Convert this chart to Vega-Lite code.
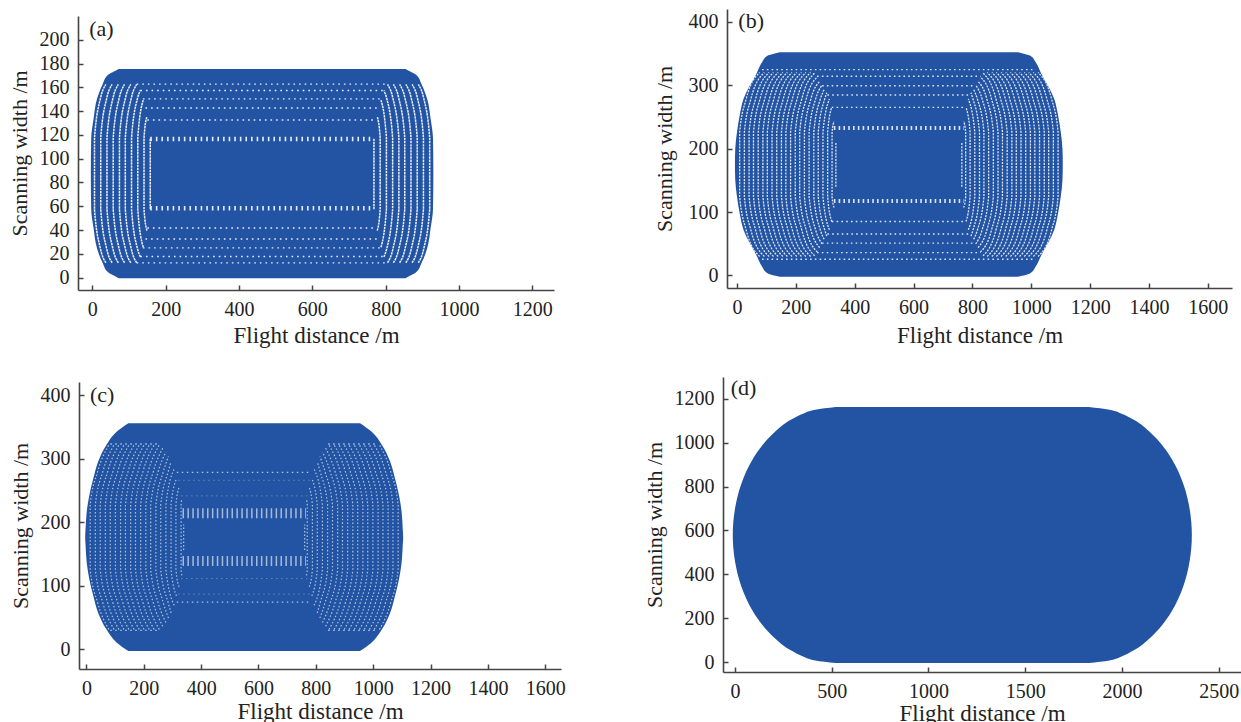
{"$schema":"https://vega.github.io/schema/vega-lite/v6.json","padding":{"left":8,"top":6,"right":0,"bottom":0},"background":"white","bounds":"flush","spacing":645,
"config":{"numberFormat":"d","view":{"stroke":null},"axisX":{"titleFontSize":23},"axis":{"grid":false,"domainColor":"#444","domainWidth":1.6,"tickColor":"#444","tickWidth":1.5,"tickSize":-5,"labelFont":"Liberation Serif","labelFontSize":20,"labelColor":"#222","labelPadding":14,"labelOverlap":false,"labelFlush":false,"titleFont":"Liberation Serif","titleFontSize":22,"titleFontWeight":"normal","titleColor":"#222","titlePadding":8}},
"datasets":{
"a_shape":[{"y":-0.5,"x":72,"x2":854},{"y":1.5,"x":60,"x2":866},{"y":4.5,"x":43,"x2":883},{"y":12.5,"x":28,"x2":898},{"y":24.5,"x":13,"x2":913},{"y":42.5,"x":3,"x2":923},{"y":57.5,"x":-3,"x2":929},{"y":87.5,"x":-4,"x2":930},{"y":117.5,"x":-3,"x2":929},{"y":132.5,"x":3,"x2":923},{"y":150.5,"x":13,"x2":913},{"y":162.5,"x":28,"x2":898},{"y":170.5,"x":43,"x2":883},{"y":173.5,"x":60,"x2":866},{"y":175.5,"x":72,"x2":854}],
"a_dots":[{"y":162.7,"x":121},{"y":162.7,"x":805},{"y":157.3,"x":131},{"y":157.3,"x":795},{"y":150.3,"x":138},{"y":150.3,"x":788},{"y":142.7,"x":145},{"y":142.7,"x":781},{"y":132.6,"x":150},{"y":132.6,"x":776},{"y":12.4,"x":121},{"y":12.4,"x":805},{"y":17.8,"x":131},{"y":17.8,"x":795},{"y":25,"x":138},{"y":25,"x":788},{"y":32.5,"x":145},{"y":32.5,"x":781},{"y":41.7,"x":150},{"y":41.7,"x":776}],
"a_wide":[{"y":116.6,"x":158},{"y":116.6,"x":768},{"y":58.4,"x":158},{"y":58.4,"x":768}],
"a_arcs":[
{"a":1,"y":12.5,"x":37},{"a":1,"y":24.5,"x":22},{"a":1,"y":57.5,"x":6},{"a":1,"y":117.5,"x":6},{"a":1,"y":150.5,"x":22},{"a":1,"y":162.5,"x":37},
{"a":2,"y":12.5,"x":54},{"a":2,"y":24.5,"x":39},{"a":2,"y":57.5,"x":23},{"a":2,"y":117.5,"x":23},{"a":2,"y":150.5,"x":39},{"a":2,"y":162.5,"x":54},
{"a":3,"y":12.5,"x":71},{"a":3,"y":24.5,"x":56},{"a":3,"y":57.5,"x":40},{"a":3,"y":117.5,"x":40},{"a":3,"y":150.5,"x":56},{"a":3,"y":162.5,"x":71},
{"a":4,"y":12.5,"x":88},{"a":4,"y":24.5,"x":73},{"a":4,"y":57.5,"x":57},{"a":4,"y":117.5,"x":57},{"a":4,"y":150.5,"x":73},{"a":4,"y":162.5,"x":88},
{"a":5,"y":12.5,"x":105},{"a":5,"y":24.5,"x":90},{"a":5,"y":57.5,"x":74},{"a":5,"y":117.5,"x":74},{"a":5,"y":150.5,"x":90},{"a":5,"y":162.5,"x":105},
{"a":6,"y":12.5,"x":121},{"a":6,"y":24.5,"x":106},{"a":6,"y":57.5,"x":90},{"a":6,"y":117.5,"x":90},{"a":6,"y":150.5,"x":106},{"a":6,"y":162.5,"x":121},
{"a":7,"y":17.5,"x":131},{"a":7,"y":24.5,"x":123},{"a":7,"y":57.5,"x":107},{"a":7,"y":117.5,"x":107},{"a":7,"y":150.5,"x":123},{"a":7,"y":157.5,"x":131},
{"a":8,"y":25.5,"x":139},{"a":8,"y":57.5,"x":124},{"a":8,"y":117.5,"x":124},{"a":8,"y":149.5,"x":139},
{"a":9,"y":39.5,"x":149},{"a":9,"y":57.5,"x":141},{"a":9,"y":117.5,"x":141},{"a":9,"y":135.5,"x":149},
{"a":10,"y":57.5,"x":158},{"a":10,"y":117.5,"x":158},
{"a":11,"y":12.5,"x":889},{"a":11,"y":24.5,"x":904},{"a":11,"y":57.5,"x":920},{"a":11,"y":117.5,"x":920},{"a":11,"y":150.5,"x":904},{"a":11,"y":162.5,"x":889},
{"a":12,"y":12.5,"x":872},{"a":12,"y":24.5,"x":887},{"a":12,"y":57.5,"x":903},{"a":12,"y":117.5,"x":903},{"a":12,"y":150.5,"x":887},{"a":12,"y":162.5,"x":872},
{"a":13,"y":12.5,"x":855},{"a":13,"y":24.5,"x":870},{"a":13,"y":57.5,"x":886},{"a":13,"y":117.5,"x":886},{"a":13,"y":150.5,"x":870},{"a":13,"y":162.5,"x":855},
{"a":14,"y":12.5,"x":838},{"a":14,"y":24.5,"x":853},{"a":14,"y":57.5,"x":869},{"a":14,"y":117.5,"x":869},{"a":14,"y":150.5,"x":853},{"a":14,"y":162.5,"x":838},
{"a":15,"y":12.5,"x":821},{"a":15,"y":24.5,"x":836},{"a":15,"y":57.5,"x":852},{"a":15,"y":117.5,"x":852},{"a":15,"y":150.5,"x":836},{"a":15,"y":162.5,"x":821},
{"a":16,"y":12.5,"x":805},{"a":16,"y":24.5,"x":820},{"a":16,"y":57.5,"x":836},{"a":16,"y":117.5,"x":836},{"a":16,"y":150.5,"x":820},{"a":16,"y":162.5,"x":805},
{"a":17,"y":17.5,"x":795},{"a":17,"y":24.5,"x":803},{"a":17,"y":57.5,"x":819},{"a":17,"y":117.5,"x":819},{"a":17,"y":150.5,"x":803},{"a":17,"y":157.5,"x":795},
{"a":18,"y":25.5,"x":787},{"a":18,"y":57.5,"x":802},{"a":18,"y":117.5,"x":802},{"a":18,"y":149.5,"x":787},
{"a":19,"y":39.5,"x":777},{"a":19,"y":57.5,"x":785},{"a":19,"y":117.5,"x":785},{"a":19,"y":135.5,"x":777},
{"a":20,"y":57.5,"x":768},{"a":20,"y":117.5,"x":768}],
"b_shape":[{"y":-2,"x":145,"x2":955},{"y":4,"x":102,"x2":998},{"y":14,"x":85,"x2":1015},{"y":30,"x":68,"x2":1032},{"y":72,"x":22,"x2":1078},{"y":98,"x":9,"x2":1091},{"y":124,"x":0,"x2":1100},{"y":151,"x":-6,"x2":1106},{"y":175,"x":-7,"x2":1107},{"y":199,"x":-6,"x2":1106},{"y":226,"x":0,"x2":1100},{"y":252,"x":9,"x2":1091},{"y":278,"x":22,"x2":1078},{"y":320,"x":68,"x2":1032},{"y":336,"x":85,"x2":1015},{"y":346,"x":102,"x2":998},{"y":352,"x":145,"x2":955}],
"b_dots":[{"y":324.4,"x":85},{"y":324.4,"x":1015},{"y":314,"x":272},{"y":314,"x":828},{"y":299,"x":289},{"y":299,"x":811},{"y":284.5,"x":307},{"y":284.5,"x":793},{"y":265,"x":322},{"y":265,"x":778},{"y":25.6,"x":85},{"y":25.6,"x":1015},{"y":36,"x":272},{"y":36,"x":828},{"y":51,"x":289},{"y":51,"x":811},{"y":65.5,"x":307},{"y":65.5,"x":793},{"y":85,"x":322},{"y":85,"x":778}],
"b_wide":[{"y":232.5,"x":329},{"y":232.5,"x":771},{"y":117.5,"x":329},{"y":117.5,"x":771}],
"b_arcs":[
{"a":1,"y":30,"x":77},{"a":1,"y":72,"x":31},{"a":1,"y":124,"x":9},{"a":1,"y":226,"x":9},{"a":1,"y":278,"x":31},{"a":1,"y":320,"x":77},
{"a":2,"y":30,"x":93},{"a":2,"y":72,"x":47},{"a":2,"y":124,"x":25},{"a":2,"y":226,"x":25},{"a":2,"y":278,"x":47},{"a":2,"y":320,"x":93},
{"a":3,"y":30,"x":109},{"a":3,"y":72,"x":63},{"a":3,"y":124,"x":41},{"a":3,"y":226,"x":41},{"a":3,"y":278,"x":63},{"a":3,"y":320,"x":109},
{"a":4,"y":30,"x":124},{"a":4,"y":72,"x":78},{"a":4,"y":124,"x":56},{"a":4,"y":226,"x":56},{"a":4,"y":278,"x":78},{"a":4,"y":320,"x":124},
{"a":5,"y":30,"x":140},{"a":5,"y":72,"x":94},{"a":5,"y":124,"x":72},{"a":5,"y":226,"x":72},{"a":5,"y":278,"x":94},{"a":5,"y":320,"x":140},
{"a":6,"y":30,"x":156},{"a":6,"y":72,"x":110},{"a":6,"y":124,"x":88},{"a":6,"y":226,"x":88},{"a":6,"y":278,"x":110},{"a":6,"y":320,"x":156},
{"a":7,"y":30,"x":171},{"a":7,"y":72,"x":125},{"a":7,"y":124,"x":103},{"a":7,"y":226,"x":103},{"a":7,"y":278,"x":125},{"a":7,"y":320,"x":171},
{"a":8,"y":30,"x":187},{"a":8,"y":72,"x":141},{"a":8,"y":124,"x":119},{"a":8,"y":226,"x":119},{"a":8,"y":278,"x":141},{"a":8,"y":320,"x":187},
{"a":9,"y":30,"x":203},{"a":9,"y":72,"x":157},{"a":9,"y":124,"x":135},{"a":9,"y":226,"x":135},{"a":9,"y":278,"x":157},{"a":9,"y":320,"x":203},
{"a":10,"y":30,"x":219},{"a":10,"y":72,"x":173},{"a":10,"y":124,"x":151},{"a":10,"y":226,"x":151},{"a":10,"y":278,"x":173},{"a":10,"y":320,"x":219},
{"a":11,"y":30,"x":234},{"a":11,"y":72,"x":188},{"a":11,"y":124,"x":166},{"a":11,"y":226,"x":166},{"a":11,"y":278,"x":188},{"a":11,"y":320,"x":234},
{"a":12,"y":30,"x":250},{"a":12,"y":72,"x":204},{"a":12,"y":124,"x":182},{"a":12,"y":226,"x":182},{"a":12,"y":278,"x":204},{"a":12,"y":320,"x":250},
{"a":13,"y":31,"x":264},{"a":13,"y":72,"x":220},{"a":13,"y":124,"x":198},{"a":13,"y":226,"x":198},{"a":13,"y":278,"x":220},{"a":13,"y":319,"x":264},
{"a":14,"y":37,"x":273},{"a":14,"y":72,"x":235},{"a":14,"y":124,"x":213},{"a":14,"y":226,"x":213},{"a":14,"y":278,"x":235},{"a":14,"y":313,"x":273},
{"a":15,"y":44,"x":281},{"a":15,"y":72,"x":251},{"a":15,"y":124,"x":229},{"a":15,"y":226,"x":229},{"a":15,"y":278,"x":251},{"a":15,"y":306,"x":281},
{"a":16,"y":50,"x":289},{"a":16,"y":72,"x":267},{"a":16,"y":124,"x":245},{"a":16,"y":226,"x":245},{"a":16,"y":278,"x":267},{"a":16,"y":300,"x":289},
{"a":17,"y":57,"x":296},{"a":17,"y":72,"x":283},{"a":17,"y":124,"x":261},{"a":17,"y":226,"x":261},{"a":17,"y":278,"x":283},{"a":17,"y":293,"x":296},
{"a":18,"y":62,"x":305},{"a":18,"y":72,"x":298},{"a":18,"y":124,"x":276},{"a":18,"y":226,"x":276},{"a":18,"y":278,"x":298},{"a":18,"y":288,"x":305},
{"a":19,"y":72,"x":314},{"a":19,"y":124,"x":292},{"a":19,"y":226,"x":292},{"a":19,"y":278,"x":314},
{"a":20,"y":85,"x":322},{"a":20,"y":124,"x":308},{"a":20,"y":226,"x":308},{"a":20,"y":265,"x":322},
{"a":21,"y":107,"x":330},{"a":21,"y":124,"x":323},{"a":21,"y":226,"x":323},{"a":21,"y":243,"x":330},
{"a":22,"y":140,"x":336},{"a":22,"y":210,"x":336},
{"a":31,"y":30,"x":1023},{"a":31,"y":72,"x":1069},{"a":31,"y":124,"x":1091},{"a":31,"y":226,"x":1091},{"a":31,"y":278,"x":1069},{"a":31,"y":320,"x":1023},
{"a":32,"y":30,"x":1007},{"a":32,"y":72,"x":1053},{"a":32,"y":124,"x":1075},{"a":32,"y":226,"x":1075},{"a":32,"y":278,"x":1053},{"a":32,"y":320,"x":1007},
{"a":33,"y":30,"x":991},{"a":33,"y":72,"x":1037},{"a":33,"y":124,"x":1059},{"a":33,"y":226,"x":1059},{"a":33,"y":278,"x":1037},{"a":33,"y":320,"x":991},
{"a":34,"y":30,"x":976},{"a":34,"y":72,"x":1022},{"a":34,"y":124,"x":1044},{"a":34,"y":226,"x":1044},{"a":34,"y":278,"x":1022},{"a":34,"y":320,"x":976},
{"a":35,"y":30,"x":960},{"a":35,"y":72,"x":1006},{"a":35,"y":124,"x":1028},{"a":35,"y":226,"x":1028},{"a":35,"y":278,"x":1006},{"a":35,"y":320,"x":960},
{"a":36,"y":30,"x":944},{"a":36,"y":72,"x":990},{"a":36,"y":124,"x":1012},{"a":36,"y":226,"x":1012},{"a":36,"y":278,"x":990},{"a":36,"y":320,"x":944},
{"a":37,"y":30,"x":929},{"a":37,"y":72,"x":975},{"a":37,"y":124,"x":997},{"a":37,"y":226,"x":997},{"a":37,"y":278,"x":975},{"a":37,"y":320,"x":929},
{"a":38,"y":30,"x":913},{"a":38,"y":72,"x":959},{"a":38,"y":124,"x":981},{"a":38,"y":226,"x":981},{"a":38,"y":278,"x":959},{"a":38,"y":320,"x":913},
{"a":39,"y":30,"x":897},{"a":39,"y":72,"x":943},{"a":39,"y":124,"x":965},{"a":39,"y":226,"x":965},{"a":39,"y":278,"x":943},{"a":39,"y":320,"x":897},
{"a":40,"y":30,"x":881},{"a":40,"y":72,"x":927},{"a":40,"y":124,"x":949},{"a":40,"y":226,"x":949},{"a":40,"y":278,"x":927},{"a":40,"y":320,"x":881},
{"a":41,"y":30,"x":866},{"a":41,"y":72,"x":912},{"a":41,"y":124,"x":934},{"a":41,"y":226,"x":934},{"a":41,"y":278,"x":912},{"a":41,"y":320,"x":866},
{"a":42,"y":30,"x":850},{"a":42,"y":72,"x":896},{"a":42,"y":124,"x":918},{"a":42,"y":226,"x":918},{"a":42,"y":278,"x":896},{"a":42,"y":320,"x":850},
{"a":43,"y":31,"x":836},{"a":43,"y":72,"x":880},{"a":43,"y":124,"x":902},{"a":43,"y":226,"x":902},{"a":43,"y":278,"x":880},{"a":43,"y":319,"x":836},
{"a":44,"y":37,"x":827},{"a":44,"y":72,"x":865},{"a":44,"y":124,"x":887},{"a":44,"y":226,"x":887},{"a":44,"y":278,"x":865},{"a":44,"y":313,"x":827},
{"a":45,"y":44,"x":819},{"a":45,"y":72,"x":849},{"a":45,"y":124,"x":871},{"a":45,"y":226,"x":871},{"a":45,"y":278,"x":849},{"a":45,"y":306,"x":819},
{"a":46,"y":50,"x":811},{"a":46,"y":72,"x":833},{"a":46,"y":124,"x":855},{"a":46,"y":226,"x":855},{"a":46,"y":278,"x":833},{"a":46,"y":300,"x":811},
{"a":47,"y":57,"x":804},{"a":47,"y":72,"x":817},{"a":47,"y":124,"x":839},{"a":47,"y":226,"x":839},{"a":47,"y":278,"x":817},{"a":47,"y":293,"x":804},
{"a":48,"y":62,"x":795},{"a":48,"y":72,"x":802},{"a":48,"y":124,"x":824},{"a":48,"y":226,"x":824},{"a":48,"y":278,"x":802},{"a":48,"y":288,"x":795},
{"a":49,"y":72,"x":786},{"a":49,"y":124,"x":808},{"a":49,"y":226,"x":808},{"a":49,"y":278,"x":786},
{"a":50,"y":85,"x":778},{"a":50,"y":124,"x":792},{"a":50,"y":226,"x":792},{"a":50,"y":265,"x":778},
{"a":51,"y":107,"x":770},{"a":51,"y":124,"x":777},{"a":51,"y":226,"x":777},{"a":51,"y":243,"x":770},
{"a":52,"y":140,"x":764},{"a":52,"y":210,"x":764}],
"c_shape":[{"y":-2.5,"x":146,"x2":954},{"y":10.5,"x":106,"x2":994},{"y":32,"x":69,"x2":1031},{"y":57.5,"x":41,"x2":1059},{"y":84,"x":24,"x2":1076},{"y":110.5,"x":10,"x2":1090},{"y":136,"x":1,"x2":1099},{"y":163,"x":-3,"x2":1103},{"y":176.5,"x":-4.5,"x2":1104.5},{"y":190,"x":-3,"x2":1103},{"y":217,"x":1,"x2":1099},{"y":242.5,"x":10,"x2":1090},{"y":269,"x":24,"x2":1076},{"y":295.5,"x":41,"x2":1059},{"y":321,"x":69,"x2":1031},{"y":342.5,"x":106,"x2":994},{"y":355.5,"x":146,"x2":954}],
"c_dots":[{"y":278.5,"x":315,"s":0},{"y":278.5,"x":785,"s":0},{"y":74.5,"x":315,"s":5},{"y":74.5,"x":785,"s":5},{"y":323,"x":83,"s":1},{"y":323,"x":257,"s":1},{"y":323,"x":843,"s":2},{"y":323,"x":1017,"s":2},{"y":30,"x":83,"s":3},{"y":30,"x":257,"s":3},{"y":30,"x":843,"s":4},{"y":30,"x":1017,"s":4}],
"c_faint":[{"y":266,"x":320},{"y":266,"x":780},{"y":241.5,"x":330},{"y":241.5,"x":770},{"y":87,"x":320},{"y":87,"x":780},{"y":111.5,"x":330},{"y":111.5,"x":770}],
"c_band":[{"y":214,"x":335},{"y":214,"x":765},{"y":139,"x":335},{"y":139,"x":765}],
"c_arcs":[
{"a":1,"y":31.5,"x":78},{"a":1,"y":73.5,"x":39},{"a":1,"y":125.5,"x":13},{"a":1,"y":227.5,"x":13},{"a":1,"y":279.5,"x":39},{"a":1,"y":321.5,"x":78},
{"a":2,"y":31.5,"x":96},{"a":2,"y":73.5,"x":57},{"a":2,"y":125.5,"x":31},{"a":2,"y":227.5,"x":31},{"a":2,"y":279.5,"x":57},{"a":2,"y":321.5,"x":96},
{"a":3,"y":31.5,"x":113},{"a":3,"y":73.5,"x":74},{"a":3,"y":125.5,"x":48},{"a":3,"y":227.5,"x":48},{"a":3,"y":279.5,"x":74},{"a":3,"y":321.5,"x":113},
{"a":4,"y":31.5,"x":131},{"a":4,"y":73.5,"x":92},{"a":4,"y":125.5,"x":66},{"a":4,"y":227.5,"x":66},{"a":4,"y":279.5,"x":92},{"a":4,"y":321.5,"x":131},
{"a":5,"y":31.5,"x":148},{"a":5,"y":73.5,"x":109},{"a":5,"y":125.5,"x":83},{"a":5,"y":227.5,"x":83},{"a":5,"y":279.5,"x":109},{"a":5,"y":321.5,"x":148},
{"a":6,"y":31.5,"x":166},{"a":6,"y":73.5,"x":127},{"a":6,"y":125.5,"x":101},{"a":6,"y":227.5,"x":101},{"a":6,"y":279.5,"x":127},{"a":6,"y":321.5,"x":166},
{"a":7,"y":31.5,"x":184},{"a":7,"y":73.5,"x":145},{"a":7,"y":125.5,"x":119},{"a":7,"y":227.5,"x":119},{"a":7,"y":279.5,"x":145},{"a":7,"y":321.5,"x":184},
{"a":8,"y":31.5,"x":201},{"a":8,"y":73.5,"x":162},{"a":8,"y":125.5,"x":136},{"a":8,"y":227.5,"x":136},{"a":8,"y":279.5,"x":162},{"a":8,"y":321.5,"x":201},
{"a":9,"y":31.5,"x":219},{"a":9,"y":73.5,"x":180},{"a":9,"y":125.5,"x":154},{"a":9,"y":227.5,"x":154},{"a":9,"y":279.5,"x":180},{"a":9,"y":321.5,"x":219},
{"a":10,"y":31.5,"x":236},{"a":10,"y":73.5,"x":197},{"a":10,"y":125.5,"x":171},{"a":10,"y":227.5,"x":171},{"a":10,"y":279.5,"x":197},{"a":10,"y":321.5,"x":236},
{"a":11,"y":31.5,"x":254},{"a":11,"y":73.5,"x":215},{"a":11,"y":125.5,"x":189},{"a":11,"y":227.5,"x":189},{"a":11,"y":279.5,"x":215},{"a":11,"y":321.5,"x":254},
{"a":12,"y":36.5,"x":266},{"a":12,"y":73.5,"x":233},{"a":12,"y":125.5,"x":207},{"a":12,"y":227.5,"x":207},{"a":12,"y":279.5,"x":233},{"a":12,"y":316.5,"x":266},
{"a":13,"y":42.5,"x":277},{"a":13,"y":73.5,"x":250},{"a":13,"y":125.5,"x":224},{"a":13,"y":227.5,"x":224},{"a":13,"y":279.5,"x":250},{"a":13,"y":310.5,"x":277},
{"a":14,"y":49.5,"x":286},{"a":14,"y":73.5,"x":268},{"a":14,"y":125.5,"x":242},{"a":14,"y":227.5,"x":242},{"a":14,"y":279.5,"x":268},{"a":14,"y":303.5,"x":286},
{"a":15,"y":57.5,"x":295},{"a":15,"y":73.5,"x":285},{"a":15,"y":125.5,"x":259},{"a":15,"y":227.5,"x":259},{"a":15,"y":279.5,"x":285},{"a":15,"y":295.5,"x":295},
{"a":16,"y":69.5,"x":306},{"a":16,"y":125.5,"x":277},{"a":16,"y":227.5,"x":277},{"a":16,"y":283.5,"x":306},
{"a":17,"y":84.5,"x":314},{"a":17,"y":125.5,"x":295},{"a":17,"y":227.5,"x":295},{"a":17,"y":268.5,"x":314},
{"a":18,"y":98.5,"x":323},{"a":18,"y":125.5,"x":312},{"a":18,"y":227.5,"x":312},{"a":18,"y":254.5,"x":323},
{"a":19,"y":116.5,"x":333},{"a":19,"y":125.5,"x":330},{"a":19,"y":227.5,"x":330},{"a":19,"y":236.5,"x":333},
{"a":20,"y":156.5,"x":339},{"a":20,"y":196.5,"x":339},
{"a":31,"y":31.5,"x":1022},{"a":31,"y":73.5,"x":1061},{"a":31,"y":125.5,"x":1087},{"a":31,"y":227.5,"x":1087},{"a":31,"y":279.5,"x":1061},{"a":31,"y":321.5,"x":1022},
{"a":32,"y":31.5,"x":1004},{"a":32,"y":73.5,"x":1043},{"a":32,"y":125.5,"x":1069},{"a":32,"y":227.5,"x":1069},{"a":32,"y":279.5,"x":1043},{"a":32,"y":321.5,"x":1004},
{"a":33,"y":31.5,"x":987},{"a":33,"y":73.5,"x":1026},{"a":33,"y":125.5,"x":1052},{"a":33,"y":227.5,"x":1052},{"a":33,"y":279.5,"x":1026},{"a":33,"y":321.5,"x":987},
{"a":34,"y":31.5,"x":969},{"a":34,"y":73.5,"x":1008},{"a":34,"y":125.5,"x":1034},{"a":34,"y":227.5,"x":1034},{"a":34,"y":279.5,"x":1008},{"a":34,"y":321.5,"x":969},
{"a":35,"y":31.5,"x":952},{"a":35,"y":73.5,"x":991},{"a":35,"y":125.5,"x":1017},{"a":35,"y":227.5,"x":1017},{"a":35,"y":279.5,"x":991},{"a":35,"y":321.5,"x":952},
{"a":36,"y":31.5,"x":934},{"a":36,"y":73.5,"x":973},{"a":36,"y":125.5,"x":999},{"a":36,"y":227.5,"x":999},{"a":36,"y":279.5,"x":973},{"a":36,"y":321.5,"x":934},
{"a":37,"y":31.5,"x":916},{"a":37,"y":73.5,"x":955},{"a":37,"y":125.5,"x":981},{"a":37,"y":227.5,"x":981},{"a":37,"y":279.5,"x":955},{"a":37,"y":321.5,"x":916},
{"a":38,"y":31.5,"x":899},{"a":38,"y":73.5,"x":938},{"a":38,"y":125.5,"x":964},{"a":38,"y":227.5,"x":964},{"a":38,"y":279.5,"x":938},{"a":38,"y":321.5,"x":899},
{"a":39,"y":31.5,"x":881},{"a":39,"y":73.5,"x":920},{"a":39,"y":125.5,"x":946},{"a":39,"y":227.5,"x":946},{"a":39,"y":279.5,"x":920},{"a":39,"y":321.5,"x":881},
{"a":40,"y":31.5,"x":864},{"a":40,"y":73.5,"x":903},{"a":40,"y":125.5,"x":929},{"a":40,"y":227.5,"x":929},{"a":40,"y":279.5,"x":903},{"a":40,"y":321.5,"x":864},
{"a":41,"y":31.5,"x":846},{"a":41,"y":73.5,"x":885},{"a":41,"y":125.5,"x":911},{"a":41,"y":227.5,"x":911},{"a":41,"y":279.5,"x":885},{"a":41,"y":321.5,"x":846},
{"a":42,"y":36.5,"x":834},{"a":42,"y":73.5,"x":867},{"a":42,"y":125.5,"x":893},{"a":42,"y":227.5,"x":893},{"a":42,"y":279.5,"x":867},{"a":42,"y":316.5,"x":834},
{"a":43,"y":42.5,"x":823},{"a":43,"y":73.5,"x":850},{"a":43,"y":125.5,"x":876},{"a":43,"y":227.5,"x":876},{"a":43,"y":279.5,"x":850},{"a":43,"y":310.5,"x":823},
{"a":44,"y":49.5,"x":814},{"a":44,"y":73.5,"x":832},{"a":44,"y":125.5,"x":858},{"a":44,"y":227.5,"x":858},{"a":44,"y":279.5,"x":832},{"a":44,"y":303.5,"x":814},
{"a":45,"y":57.5,"x":805},{"a":45,"y":73.5,"x":815},{"a":45,"y":125.5,"x":841},{"a":45,"y":227.5,"x":841},{"a":45,"y":279.5,"x":815},{"a":45,"y":295.5,"x":805},
{"a":46,"y":69.5,"x":794},{"a":46,"y":125.5,"x":823},{"a":46,"y":227.5,"x":823},{"a":46,"y":283.5,"x":794},
{"a":47,"y":84.5,"x":786},{"a":47,"y":125.5,"x":805},{"a":47,"y":227.5,"x":805},{"a":47,"y":268.5,"x":786},
{"a":48,"y":98.5,"x":777},{"a":48,"y":125.5,"x":788},{"a":48,"y":227.5,"x":788},{"a":48,"y":254.5,"x":777},
{"a":49,"y":116.5,"x":767},{"a":49,"y":125.5,"x":770},{"a":49,"y":227.5,"x":770},{"a":49,"y":236.5,"x":767},
{"a":50,"y":156.5,"x":761},{"a":50,"y":196.5,"x":761}],
"d_shape":[{"y":-4,"x":521,"x2":1829},{"y":8,"x":415,"x2":1935},{"y":25,"x":355,"x2":1995},{"y":54,"x":289,"x2":2061},{"y":113,"x":202,"x2":2148},{"y":171,"x":141,"x2":2209},{"y":229,"x":95,"x2":2255},{"y":346,"x":33,"x2":2317},{"y":462,"x":0,"x2":2350},{"y":579,"x":-11,"x2":2361},{"y":696,"x":0,"x2":2350},{"y":812,"x":33,"x2":2317},{"y":929,"x":95,"x2":2255},{"y":987,"x":141,"x2":2209},{"y":1045,"x":202,"x2":2148},{"y":1104,"x":289,"x2":2061},{"y":1133,"x":355,"x2":1995},{"y":1150,"x":415,"x2":1935},{"y":1162,"x":521,"x2":1829}]
},
"hconcat":[
{"bounds":"flush","spacing":1,"vconcat":[
{"width":1,"height":6,"data":{"values":[{"v":0}]},"mark":{"type":"point","opacity":0},"encoding":{}},
{"bounds":"flush","spacing":92,"vconcat":[
{"width":476,"height":274,
"encoding":{"x":{"field":"x","type":"quantitative","scale":{"domain":[-39,1259],"nice":false,"zero":false},"axis":{"title":"Flight distance /m","titlePadding":5,"values":[0,200,400,600,800,1000,1200]}},"y":{"field":"y","type":"quantitative","scale":{"domain":[-10.4,220],"nice":false,"zero":false},"axis":{"title":"Scanning width /m","values":[0,20,40,60,80,100,120,140,160,180,200]}}},
"layer":[
{"data":{"name":"a_shape"},"mark":{"type":"area","orient":"horizontal","interpolate":"monotone","color":"#2254a3"},"encoding":{"x2":{"field":"x2"}}},
{"data":{"name":"a_arcs"},"mark":{"type":"line","orient":"horizontal","interpolate":"monotone","color":"#ffffff","strokeWidth":1.5,"strokeDash":[2.4,0.7],"opacity":0.9},"encoding":{"detail":{"field":"a"},"order":{"field":"y"}}},
{"data":{"name":"a_dots"},"mark":{"type":"line","color":"#ffffff","strokeWidth":1.4,"strokeDash":[1.6,4],"opacity":0.9},"encoding":{"detail":{"field":"y"}}},
{"data":{"name":"a_wide"},"mark":{"type":"line","color":"#ffffff","strokeWidth":4.5,"strokeDash":[1.6,4],"opacity":0.9},"encoding":{"detail":{"field":"y"}}},
{"data":{"values":[{"x":25,"y":209,"t":"(a)"}]},"mark":{"type":"text","font":"Liberation Serif","fontSize":22,"color":"#222"},"encoding":{"text":{"field":"t"}}}
]},
{"bounds":"flush","spacing":0,"hconcat":[
{"width":1,"height":1,"data":{"values":[{"v":0}]},"mark":{"type":"point","opacity":0},"encoding":{}},
{"width":482,"height":287,
"encoding":{"x":{"field":"x","type":"quantitative","scale":{"domain":[-26,1655],"nice":false,"zero":false},"axis":{"title":"Flight distance /m","titlePadding":2,"values":[0,200,400,600,800,1000,1200,1400,1600]}},"y":{"field":"y","type":"quantitative","scale":{"domain":[-30.7,420.5],"nice":false,"zero":false},"axis":{"title":"Scanning width /m","values":[0,100,200,300,400]}}},
"layer":[
{"data":{"name":"c_shape"},"mark":{"type":"area","orient":"horizontal","interpolate":"monotone","color":"#2254a3"},"encoding":{"x2":{"field":"x2"}}},
{"data":{"name":"c_arcs"},"mark":{"type":"line","orient":"horizontal","interpolate":"monotone","color":"#ffffff","strokeWidth":1.2,"strokeDash":[1.5,2],"opacity":0.65},"encoding":{"detail":{"field":"a"},"order":{"field":"y"}}},
{"data":{"name":"c_dots"},"mark":{"type":"line","color":"#ffffff","strokeWidth":1.3,"strokeDash":[1.5,3.5],"opacity":0.65},"encoding":{"detail":{"field":"s"}}},
{"data":{"name":"c_faint"},"mark":{"type":"line","color":"#ffffff","strokeWidth":1,"strokeDash":[1.5,3.5],"opacity":0.3},"encoding":{"detail":{"field":"y"}}},
{"data":{"name":"c_band"},"mark":{"type":"line","color":"#ffffff","strokeWidth":10,"strokeDash":[1.5,3.4],"opacity":0.6},"encoding":{"detail":{"field":"y"}}},
{"data":{"values":[{"x":55,"y":400,"t":"(c)"}]},"mark":{"type":"text","font":"Liberation Serif","fontSize":22,"color":"#222"},"encoding":{"text":{"field":"t"}}}
]}
]}
]}
]},
{"bounds":"flush","spacing":368,"vconcat":[
{"bounds":"flush","spacing":2,"hconcat":[
{"width":2,"height":1,"data":{"values":[{"v":0}]},"mark":{"type":"point","opacity":0},"encoding":{}},
{"width":505,"height":279,
"encoding":{"x":{"field":"x","type":"quantitative","scale":{"domain":[-34,1682],"nice":false,"zero":false},"axis":{"title":"Flight distance /m","titlePadding":7,"values":[0,200,400,600,800,1000,1200,1400,1600]}},"y":{"field":"y","type":"quantitative","scale":{"domain":[-19.7,420],"nice":false,"zero":false},"axis":{"title":"Scanning width /m","titlePadding":12,"values":[0,100,200,300,400]}}},
"layer":[
{"data":{"name":"b_shape"},"mark":{"type":"area","orient":"horizontal","interpolate":"monotone","color":"#2254a3"},"encoding":{"x2":{"field":"x2"}}},
{"data":{"name":"b_arcs"},"mark":{"type":"line","orient":"horizontal","interpolate":"monotone","color":"#ffffff","strokeWidth":1.3,"strokeDash":[2,1.2],"opacity":0.85},"encoding":{"detail":{"field":"a"},"order":{"field":"y"}}},
{"data":{"name":"b_dots"},"mark":{"type":"line","color":"#ffffff","strokeWidth":1.4,"strokeDash":[1.6,3.2],"opacity":0.85},"encoding":{"detail":{"field":"y"}}},
{"data":{"name":"b_wide"},"mark":{"type":"line","color":"#ffffff","strokeWidth":4,"strokeDash":[1.6,3.2],"opacity":0.85},"encoding":{"detail":{"field":"y"}}},
{"data":{"values":[{"x":48,"y":401,"t":"(b)"}]},"mark":{"type":"text","font":"Liberation Serif","fontSize":22,"color":"#222"},"encoding":{"text":{"field":"t"}}}
]}
]},
{"width":518,"height":295,
"encoding":{"x":{"field":"x","type":"quantitative","scale":{"domain":[-61.5,2615],"nice":false,"zero":false},"axis":{"title":"Flight distance /m","titlePadding":1,"values":[0,500,1000,1500,2000,2500]}},"y":{"field":"y","type":"quantitative","scale":{"domain":[-44.6,1298.7],"nice":false,"zero":false},"axis":{"title":"Scanning width /m","values":[0,200,400,600,800,1000,1200]}}},
"layer":[
{"data":{"name":"d_shape"},"mark":{"type":"area","orient":"horizontal","interpolate":"monotone","color":"#2254a3"},"encoding":{"x2":{"field":"x2"}}},
{"data":{"values":[{"x":45,"y":1250,"t":"(d)"}]},"mark":{"type":"text","font":"Liberation Serif","fontSize":22,"color":"#222"},"encoding":{"text":{"field":"t"}}}
]}
]}
]}
